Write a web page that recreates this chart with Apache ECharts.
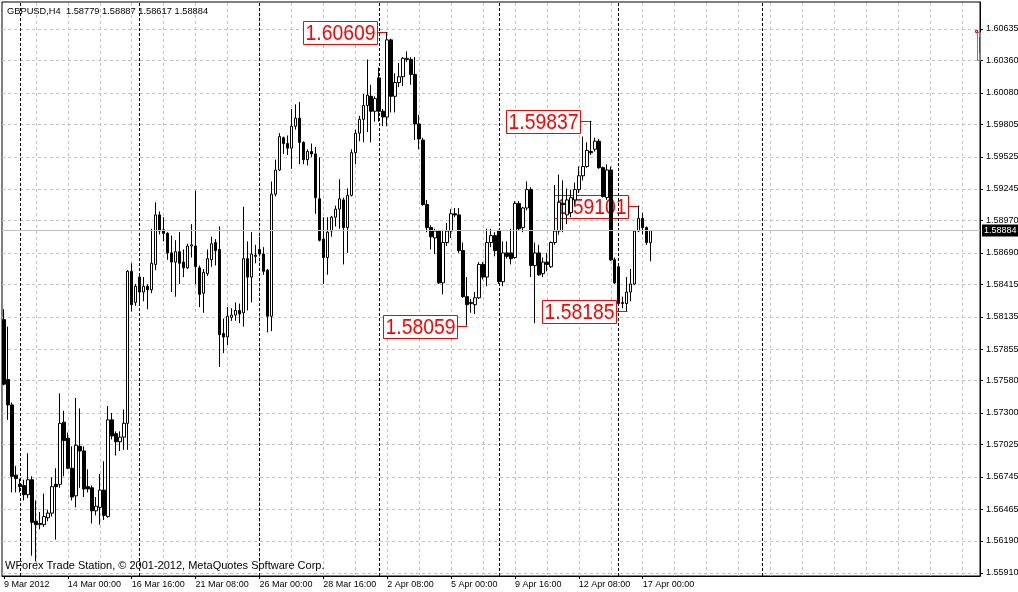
<!DOCTYPE html>
<html>
<head>
<meta charset="utf-8">
<script src="https://cdn.jsdelivr.net/npm/echarts@6/dist/echarts.min.js"></script>
<style>
  html, body { margin: 0; padding: 0; background: #fff; }
  #main { width: 1018px; height: 592px; }
</style>
</head>
<body>
<div id="main"></div>
<script>
// GBPUSD H4, first bar = 9 Mar 2012 08:00
const opens = [
  1.5811, 1.5759, 1.5737, 1.5676, 1.5668, 1.5667, 1.5659, 1.5672, 1.5636, 1.5633,
  1.5633, 1.5639, 1.5643, 1.5668, 1.5668, 1.5722, 1.5708, 1.5682, 1.5658, 1.5701,
  1.5697, 1.5666, 1.5665, 1.5645, 1.5648, 1.5663, 1.5640, 1.5724, 1.5712, 1.5705,
  1.5709, 1.5721, 1.5853, 1.5826, 1.5848, 1.5835, 1.5840, 1.5837, 1.5859, 1.5902,
  1.5889, 1.5886, 1.5869, 1.5861, 1.5870, 1.5861, 1.5856, 1.5875, 1.5875, 1.5856,
  1.5834, 1.5851, 1.5863, 1.5878, 1.5872, 1.5799, 1.5796, 1.5813, 1.5815, 1.5819,
  1.5817, 1.5864, 1.5848, 1.5867, 1.5872, 1.5868, 1.5854, 1.5814, 1.5920, 1.5941,
  1.5969, 1.5964, 1.5960, 1.5979, 1.5986, 1.5965, 1.5950, 1.5957, 1.5955, 1.5916,
  1.5881, 1.5865, 1.5888, 1.5900, 1.5907, 1.5915, 1.5891, 1.5919, 1.5956, 1.5973,
  1.5985, 1.5997, 1.6005, 1.5992, 1.6021, 1.5992, 1.5987, 1.6054, 1.6005, 1.6017,
  1.6022, 1.6037, 1.6037, 1.6024, 1.5981, 1.5967, 1.5911, 1.5891, 1.5882, 1.5888,
  1.5843, 1.5878, 1.5888, 1.5903, 1.5902, 1.5871, 1.5831, 1.5825, 1.5824, 1.5830,
  1.5859, 1.5848, 1.5878, 1.5884, 1.5888, 1.5844, 1.5869, 1.5869, 1.5865, 1.5912,
  1.5891, 1.5908, 1.5924, 1.5858, 1.5869, 1.5851, 1.5861, 1.5857, 1.5878, 1.5888,
  1.5912, 1.5902, 1.5904, 1.5915, 1.5924, 1.5936, 1.5944, 1.5957, 1.5959, 1.5966,
  1.5943, 1.5917, 1.5941, 1.5863, 1.5857, 1.5825, 1.5825, 1.5835, 1.5842, 1.5888,
  1.5899, 1.5891, 1.58779
];
const highs = [
  1.5820, 1.5805, 1.5739, 1.5684, 1.5673, 1.5672, 1.5695, 1.5675, 1.5654, 1.5644,
  1.5660, 1.5646, 1.5674, 1.5682, 1.5747, 1.5732, 1.5713, 1.5701, 1.5743, 1.5734,
  1.5701, 1.5681, 1.5667, 1.5657, 1.5677, 1.5688, 1.5736, 1.5730, 1.5714, 1.5714,
  1.5733, 1.5854, 1.5860, 1.5842, 1.5850, 1.5848, 1.5842, 1.5890, 1.5913, 1.5905,
  1.5900, 1.5887, 1.5884, 1.5880, 1.5887, 1.5872, 1.5877, 1.5894, 1.5923, 1.5858,
  1.5855, 1.5872, 1.5883, 1.5881, 1.5892, 1.5812, 1.5822, 1.5821, 1.5826, 1.5825,
  1.5909, 1.5879, 1.5887, 1.5876, 1.5883, 1.5874, 1.5855, 1.5931, 1.5950, 1.5973,
  1.5970, 1.5971, 1.5994, 1.5998, 1.6000, 1.5966, 1.5959, 1.5964, 1.5961, 1.5952,
  1.5900, 1.5900, 1.5901, 1.5910, 1.5933, 1.5917, 1.5925, 1.5959, 1.5976, 1.5988,
  1.6007, 1.6037, 1.6015, 1.6005, 1.6030, 1.5994, 1.60609, 1.6055, 1.6025, 1.6034,
  1.6039, 1.6044, 1.6039, 1.6039, 1.5989, 1.5969, 1.5915, 1.5893, 1.5890, 1.5889,
  1.5889, 1.5895, 1.5907, 1.5908, 1.5908, 1.5878, 1.5848, 1.5829, 1.5835, 1.5861,
  1.5861, 1.5890, 1.5890, 1.5887, 1.5889, 1.5879, 1.5879, 1.5890, 1.5914, 1.5914,
  1.5909, 1.5931, 1.5926, 1.5878, 1.5876, 1.5865, 1.5869, 1.5879, 1.5928, 1.5937,
  1.5932, 1.5925, 1.5924, 1.5930, 1.5944, 1.5970, 1.5965, 1.59837, 1.5969, 1.5968,
  1.5944, 1.5946, 1.5944, 1.5865, 1.5858, 1.5831, 1.5848, 1.5855, 1.5889, 1.59101,
  1.5904, 1.5892, 1.58887
];
const lows = [
  1.5754, 1.5724, 1.5661, 1.5661, 1.5661, 1.5654, 1.5656, 1.5606, 1.5601, 1.5629,
  1.5631, 1.5636, 1.5640, 1.5620, 1.5665, 1.5675, 1.5681, 1.5654, 1.5648, 1.5665,
  1.5657, 1.5661, 1.5634, 1.5641, 1.5633, 1.5637, 1.5639, 1.5707, 1.5693, 1.5697,
  1.5698, 1.5698, 1.5818, 1.5823, 1.5824, 1.5827, 1.5820, 1.5834, 1.5854, 1.5885,
  1.5879, 1.5863, 1.5835, 1.5831, 1.5842, 1.5848, 1.5855, 1.5865, 1.5842, 1.5822,
  1.5817, 1.5849, 1.5857, 1.5858, 1.5770, 1.5782, 1.5789, 1.5810, 1.5810, 1.5808,
  1.5805, 1.5819, 1.5826, 1.5860, 1.5866, 1.5850, 1.5800, 1.5801, 1.5918, 1.5940,
  1.5955, 1.5954, 1.5942, 1.5976, 1.5946, 1.5946, 1.5945, 1.5952, 1.5903, 1.5879,
  1.5842, 1.5850, 1.5883, 1.5892, 1.5890, 1.5859, 1.5869, 1.5918, 1.5946, 1.5966,
  1.5965, 1.5974, 1.5965, 1.5983, 1.5983, 1.5979, 1.5979, 1.5991, 1.5991, 1.6013,
  1.6014, 1.6035, 1.6015, 1.5967, 1.5959, 1.5910, 1.5887, 1.5872, 1.5868, 1.5842,
  1.5833, 1.5875, 1.5882, 1.5900, 1.5869, 1.5830, 1.58059, 1.5817, 1.5816, 1.5829,
  1.5846, 1.5840, 1.5874, 1.5866, 1.5842, 1.5840, 1.5864, 1.5859, 1.5864, 1.5888,
  1.5887, 1.5906, 1.5848, 1.5808, 1.5849, 1.5848, 1.5853, 1.5856, 1.5876, 1.5885,
  1.5887, 1.5894, 1.5900, 1.5911, 1.5921, 1.5932, 1.5943, 1.5954, 1.5957, 1.5942,
  1.5917, 1.5915, 1.5862, 1.5842, 1.5824, 1.5821, 1.58185, 1.5827, 1.5841, 1.5887,
  1.5885, 1.5876, 1.58617
];
const closes = [
  1.5755, 1.5737, 1.5675, 1.5673, 1.5666, 1.5659, 1.5672, 1.5635, 1.5633, 1.5634,
  1.5640, 1.5643, 1.5666, 1.5666, 1.5721, 1.5706, 1.5682, 1.5657, 1.5702, 1.5697,
  1.5664, 1.5664, 1.5645, 1.5649, 1.5663, 1.5641, 1.5724, 1.5710, 1.5705, 1.5709,
  1.5721, 1.5853, 1.5824, 1.5840, 1.5835, 1.5840, 1.5837, 1.5860, 1.5902, 1.5888,
  1.5886, 1.5869, 1.5861, 1.5870, 1.5860, 1.5856, 1.5875, 1.5876, 1.5857, 1.5833,
  1.5852, 1.5864, 1.5877, 1.5871, 1.5798, 1.5796, 1.5814, 1.5815, 1.5819, 1.5816,
  1.5864, 1.5848, 1.5868, 1.5866, 1.5868, 1.5853, 1.5814, 1.5920, 1.5941, 1.5970,
  1.5964, 1.5960, 1.5979, 1.5986, 1.5965, 1.5950, 1.5957, 1.5955, 1.5917, 1.5880,
  1.5865, 1.5887, 1.5900, 1.5907, 1.5916, 1.5891, 1.5919, 1.5956, 1.5973, 1.5985,
  1.5997, 1.6006, 1.5992, 1.6003, 1.5992, 1.5987, 1.6054, 1.6005, 1.6017, 1.6022,
  1.6038, 1.6038, 1.6024, 1.5981, 1.5968, 1.5911, 1.5891, 1.5883, 1.5888, 1.5843,
  1.5878, 1.5888, 1.5903, 1.5902, 1.5871, 1.5831, 1.5824, 1.5826, 1.5830, 1.5859,
  1.5848, 1.5878, 1.5884, 1.5871, 1.5844, 1.5869, 1.5866, 1.5864, 1.5912, 1.5890,
  1.5908, 1.5924, 1.5858, 1.5869, 1.5850, 1.5861, 1.5859, 1.5878, 1.5888, 1.5913,
  1.5911, 1.5915, 1.5917, 1.5924, 1.5936, 1.5944, 1.5958, 1.5956, 1.5966, 1.5943,
  1.5918, 1.5941, 1.5863, 1.5843, 1.5825, 1.5826, 1.5835, 1.5842, 1.5888, 1.5899,
  1.5891, 1.5878, 1.58884
];

const priceTicks = [
  1.55910, 1.56190, 1.56465, 1.56745, 1.57025, 1.57300, 1.57580, 1.57855, 1.58135,
  1.58415, 1.58690, 1.58970, 1.59245, 1.59525, 1.59805, 1.60080, 1.60360, 1.60635
];
const timeLabels = [
  '9 Mar 2012', '14 Mar 00:00', '16 Mar 16:00', '21 Mar 08:00', '26 Mar 00:00',
  '28 Mar 16:00', '2 Apr 08:00', '5 Apr 00:00', '9 Apr 16:00', '12 Apr 08:00', '17 Apr 00:00'
];
// bars where a new week starts (period separators)
const weekStarts = [4, 34, 64, 94, 124, 154, 190];
// zigzag turning points
const zigzagBars = [96, 116, 147, 156, 159];
const zigzagPrices = [1.60609, 1.58059, 1.59837, 1.58185, 1.59101];
const bidPrice = 1.58884;

const SLOTS = 245;      // bars that fit the window, incl. the right shift
const LABEL_STEP = 16;  // a time label every 16 bars
const GRID_STEP = 8;    // a grid line every 8 bars
const FONT = '"Liberation Sans", Arial, sans-serif';

const categories = [];
for (let i = 0; i < SLOTS; i++) categories.push(String(i));
const candleData = opens.map((o, i) => [o, closes[i], lows[i], highs[i]]);
const gridBars = [];
for (let i = GRID_STEP; i < SLOTS; i += GRID_STEP) gridBars.push(i);

const last = opens.length - 1;
const titleText = 'GBPUSD,H4  ' +
  [opens[last], highs[last], lows[last], closes[last]].map(v => v.toFixed(5)).join(' ');

const showLabel = i => i % LABEL_STEP === 0 && i / LABEL_STEP < timeLabels.length;

const chart = echarts.init(document.getElementById('main'));
const option = {
  animation: false,
  backgroundColor: '#fff',
  textStyle: { fontFamily: FONT },
  grid: {
    left: 2, right: 38, top: 2, bottom: 16,
    containLabel: false,
    outerBoundsMode: 'none',
    show: true, borderColor: '#000', borderWidth: 1, backgroundColor: 'transparent'
  },
  xAxis: {
    type: 'category',
    data: categories,
    boundaryGap: true,
    axisLine: { lineStyle: { color: '#000', width: 1 } },
    axisTick: { show: true, interval: showLabel, alignWithLabel: true, length: 3, lineStyle: { color: '#000' } },
    axisLabel: {
      interval: showLabel,
      formatter: (v, i) => timeLabels[i / LABEL_STEP],
      align: 'left',
      color: '#000',
      fontSize: 9,
      fontFamily: FONT,
      margin: 4
    },
    splitLine: { show: false }
  },
  yAxis: {
    type: 'value',
    position: 'right',
    min: 1.55884,
    max: 1.60869,
    axisLine: { show: true, lineStyle: { color: '#000' } },
    axisTick: { show: true, length: 3, customValues: priceTicks, lineStyle: { color: '#000' } },
    axisLabel: {
      customValues: priceTicks,
      formatter: v => v.toFixed(5),
      color: '#000',
      fontSize: 9,
      fontFamily: FONT,
      margin: 6
    },
    splitLine: { show: true, lineStyle: { color: '#c0c0c0', type: [3, 3], width: 1 } }
  },
  series: [
    {
      // vertical grid, kept under the text boxes
      type: 'line',
      data: [],
      silent: true,
      markLine: {
        silent: true,
        z: 0,
        symbol: ['none', 'none'],
        label: { show: false },
        lineStyle: { color: '#c0c0c0', type: [3, 3], width: 1 },
        data: gridBars.map(b => ({ xAxis: b }))
      }
    },
    {
      type: 'candlestick',
      data: candleData,
      barWidth: 3,
      z: 3,
      itemStyle: {
        color: '#fff',
        color0: '#000',
        borderColor: '#000',
        borderColor0: '#000',
        borderColorDoji: '#000',
        borderWidth: 1
      },
      markLine: {
        silent: true,
        precision: 5,
        symbol: ['none', 'none'],
        data: weekStarts.map(b => ({
          xAxis: b,
          lineStyle: { color: '#000', type: [3, 2], width: 1 },
          label: { show: false }
        })).concat([{
          yAxis: bidPrice,
          lineStyle: { color: '#c0c0c0', type: 'solid', width: 1 },
          label: {
            show: true,
            position: 'end',
            formatter: bidPrice.toFixed(5),
            color: '#fff',
            backgroundColor: '#000',
            fontSize: 9,
            fontFamily: FONT,
            padding: [2, 2, 1, 2],
            distance: 2
          }
        }])
      }
    }
  ]
};
chart.setOption(option);

// zigzag price boxes + chart texts
const graphics = [];
zigzagBars.forEach((b, k) => {
  const p = chart.convertToPixel({ seriesIndex: 1 }, [b, zigzagPrices[k]]);
  const py = Math.round(p[1]) + 0.5;
  const right = Math.round(p[0] - 10.5) + 0.5;
  const top = py - 11;
  graphics.push({
    type: 'rect', z: 1,
    shape: { x: right - 74, y: top, width: 74, height: 23 },
    style: { fill: '#fff', stroke: '#ff0000', lineWidth: 1 }
  });
  graphics.push({
    type: 'line', z: 1,
    shape: { x1: right, y1: py, x2: Math.round(p[0]) + 0.5, y2: py },
    style: { stroke: '#ff0000', lineWidth: 1 }
  });
  graphics.push({
    type: 'text', z: 1,
    x: right - 37, y: top + 12, scaleX: 0.88,
    style: {
      text: zigzagPrices[k].toFixed(5), x: 0, y: 0,
      fill: '#ff0000', font: '22px ' + FONT, align: 'center', verticalAlign: 'middle'
    }
  });
});
graphics.push({
  type: 'text', z: 10,
  style: { text: titleText, x: 7, y: 11, fill: '#000', font: '9.3px ' + FONT, align: 'left', verticalAlign: 'middle' }
});
graphics.push({
  type: 'text', z: 10,
  style: {
    text: 'WForex Trade Station, \u00a9 2001-2012, MetaQuotes Software Corp.',
    x: 5, y: 566, fill: '#000', font: '11px ' + FONT, align: 'left', verticalAlign: 'middle'
  }
});
// small marker at top right edge
graphics.push({
  type: 'rect', z: 10,
  shape: { x: 977.5, y: 32.5, width: 3, height: 28 },
  style: { fill: 'none', stroke: '#808080', lineWidth: 1 }
});
graphics.push({
  type: 'rect', z: 10,
  shape: { x: 975.5, y: 30.5, width: 2, height: 2 },
  style: { fill: 'none', stroke: '#ff0000', lineWidth: 1 }
});
graphics.push({
  type: 'line', z: 10,
  shape: { x1: 979.5, y1: 37, x2: 979.5, y2: 53 },
  style: { stroke: '#ff0000', lineWidth: 1 }
});
chart.setOption({ graphic: { elements: graphics } });
</script>
</body>
</html>
